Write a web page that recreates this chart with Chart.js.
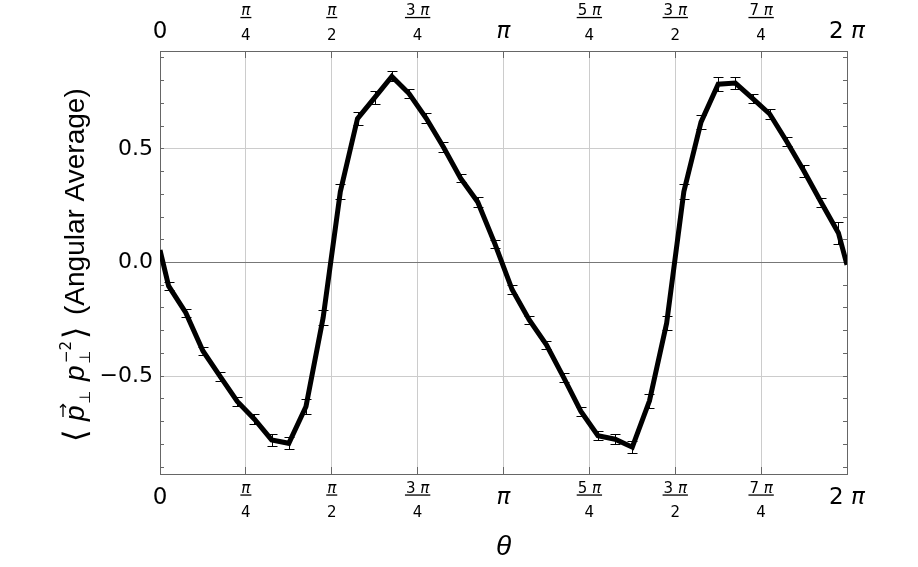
<!DOCTYPE html>
<html>
<head>
<meta charset="utf-8">
<script src="https://cdn.jsdelivr.net/npm/chart.js@4.4.0/dist/chart.umd.min.js"></script>
<style>
  html, body { margin: 0; padding: 0; background: #fff; }
  #wrap { width: 918px; height: 567px; }
</style>
</head>
<body>
<div id="wrap"><canvas id="chart" width="918" height="567"></canvas></div>
<script>
'use strict';

// theta in degrees: bin centres every 9 deg, plus both ends of the period
const thetaDeg = [0, 4.5, 13.5, 22.5, 31.5, 40.5, 49.5, 58.5, 67.5, 76.5, 85.5,
  94.5, 103.5, 112.5, 121.5, 130.5, 139.5, 148.5, 157.5, 166.5, 175.5,
  184.5, 193.5, 202.5, 211.5, 220.5, 229.5, 238.5, 247.5, 256.5, 265.5,
  274.5, 283.5, 292.5, 301.5, 310.5, 319.5, 328.5, 337.5, 346.5, 355.5, 360];

// angular average
const avgValues = [0.055, -0.103, -0.221, -0.389, -0.501, -0.611, -0.689, -0.780, -0.795, -0.633, -0.242,
  0.311, 0.633, 0.725, 0.818, 0.743, 0.634, 0.508, 0.371, 0.266, 0.082,
  -0.119, -0.253, -0.362, -0.505, -0.654, -0.762, -0.777, -0.812, -0.608, -0.266,
  0.311, 0.617, 0.784, 0.789, 0.722, 0.653, 0.531, 0.401, 0.264, 0.130, -0.010];

// half length of each error bar (0 = no bar)
const avgErrors = [0, 0.018, 0.018, 0.018, 0.020, 0.020, 0.022, 0.025, 0.027, 0.032, 0.035,
  0.033, 0.029, 0.027, 0.022, 0.021, 0.022, 0.020, 0.017, 0.020, 0.018,
  0.018, 0.018, 0.018, 0.020, 0.020, 0.020, 0.023, 0.026, 0.031, 0.032,
  0.033, 0.031, 0.031, 0.026, 0.021, 0.021, 0.020, 0.026, 0.019, 0.050, 0];

const xTickDeg = [0, 45, 90, 135, 180, 225, 270, 315, 360];
const xTickLabels = ['0', ['π', '4'], ['π', '2'], ['3 π', '4'], 'π', ['5 π', '4'], ['3 π', '2'], ['7 π', '4'], '2 π'];

const yTickValues = [-0.9, -0.8, -0.7, -0.6, -0.5, -0.4, -0.3, -0.2, -0.1, 0,
  0.1, 0.2, 0.3, 0.4, 0.5, 0.6, 0.7, 0.8, 0.9];
const yMajor = { '-0.5': '−0.5', '0': '0.0', '0.5': '0.5' };

const X_TITLE = 'θ';
const Y_TITLE_REST = '(Angular Average)';

const FRAME = '#666666';
const GRID = '#cccccc';
const ZERO = '#777777';

// draw a string where π is set in italic and the rest upright, centred on cx
function drawMath(ctx, text, cx, baseline, size) {
  const up = `${size}px "DejaVu Sans"`;
  const it = `italic ${size}px "DejaVu Sans"`;
  const parts = Array.from(text).map((ch) => ({ ch, font: ch === 'π' ? it : up }));
  let total = 0;
  parts.forEach((p) => { ctx.font = p.font; p.w = ctx.measureText(p.ch).width; total += p.w; });
  let x = cx - total / 2;
  ctx.textAlign = 'left';
  ctx.textBaseline = 'alphabetic';
  parts.forEach((p) => { ctx.font = p.font; ctx.fillText(p.ch, x, baseline); x += p.w; });
  return total;
}

function drawThetaTicks(ctx, scale, side) {
  const bigBase = side === 'top' ? scale.bottom - 13.5 : scale.top + 30;
  const barY = side === 'top' ? scale.bottom - 33.5 : scale.top + 21;
  xTickDeg.forEach((deg, i) => {
    const px = scale.getPixelForValue(deg);
    const lab = xTickLabels[i];
    if (Array.isArray(lab)) {
      const w = drawMath(ctx, lab[0], px, barY - 2.5, 15);
      drawMath(ctx, lab[1], px, barY + 22, 15);
      ctx.fillRect(px - w / 2 - 1, barY - 0.6, w + 2, 1.3);
    } else {
      drawMath(ctx, lab, px, bigBase, 23);
    }
  });
}

function drawYTitle(ctx) {
  const base = '28px "Liberation Sans"';
  const ital = 'italic 28px "Liberation Sans"';
  const small = '15px "DejaVu Sans"';
  const bracket = '32px "DejaVu Sans"';
  ctx.save();
  ctx.translate(84, 440);
  ctx.rotate(-Math.PI / 2);
  ctx.fillStyle = '#000';
  ctx.strokeStyle = '#000';
  ctx.textAlign = 'left';
  ctx.textBaseline = 'alphabetic';

  ctx.font = bracket;
  ctx.fillText('⟨', -2, 2);

  // vector p with its arrow
  ctx.font = ital;
  ctx.fillText('p', 19, 0);
  const pw = ctx.measureText('p').width;
  ctx.lineWidth = 1.3;
  ctx.beginPath();
  ctx.moveTo(23, -21); ctx.lineTo(19 + pw + 1, -21);
  ctx.moveTo(19 + pw - 2, -24); ctx.lineTo(19 + pw + 1, -21); ctx.lineTo(19 + pw - 2, -18);
  ctx.stroke();
  ctx.font = small;
  ctx.fillText('⊥', 36, 6);

  ctx.font = ital;
  ctx.fillText('p', 59, 0);
  ctx.font = small;
  ctx.fillText('⊥', 76, 6);
  ctx.fillText('−2', 77, -13);

  ctx.font = bracket;
  ctx.fillText('⟩', 101, 2);

  ctx.font = base;
  ctx.fillText(Y_TITLE_REST, 125, 0);
  ctx.restore();
}

const frameText = {
  id: 'frameText',
  afterDraw(chart) {
    const ctx = chart.ctx;
    ctx.save();
    ctx.fillStyle = '#000';
    drawThetaTicks(ctx, chart.scales.xTop, 'top');
    drawThetaTicks(ctx, chart.scales.x, 'bottom');
    ctx.restore();
    drawYTitle(ctx);
  },
};

const errorBars = {
  id: 'errorBars',
  afterDatasetsDraw(chart) {
    const ctx = chart.ctx;
    const xs = chart.scales.x;
    const ys = chart.scales.y;
    const area = chart.chartArea;
    ctx.save();
    ctx.beginPath();
    ctx.rect(area.left, area.top, area.right - area.left, area.bottom - area.top);
    ctx.clip();
    ctx.strokeStyle = '#000';
    ctx.lineWidth = 1;
    thetaDeg.forEach((deg, i) => {
      const e = avgErrors[i];
      if (!e) return;
      const x = Math.round(xs.getPixelForValue(deg)) + 0.5;
      const y1 = Math.round(ys.getPixelForValue(avgValues[i] + e)) + 0.5;
      const y2 = Math.round(ys.getPixelForValue(avgValues[i] - e)) + 0.5;
      ctx.beginPath();
      ctx.moveTo(x, y1); ctx.lineTo(x, y2);
      ctx.moveTo(x - 5, y1); ctx.lineTo(x + 5, y1);
      ctx.moveTo(x - 5, y2); ctx.lineTo(x + 5, y2);
      ctx.stroke();
    });
    ctx.restore();
  },
};

const setXTicks = (s) => { s.ticks = xTickDeg.map((v) => ({ value: v })); };
const setYTicks = (s) => { s.ticks = yTickValues.map((v) => ({ value: v })); };

new Chart(document.getElementById('chart'), {
  type: 'line',
  data: {
    datasets: [{
      data: thetaDeg.map((t, i) => ({ x: t, y: avgValues[i] })),
      borderColor: '#000',
      borderWidth: 5,
      pointRadius: 0,
      tension: 0,
      fill: false,
      clip: 0,
    }],
  },
  options: {
    responsive: false,
    animation: false,
    devicePixelRatio: 1,
    layout: { padding: 0 },
    plugins: { legend: { display: false }, tooltip: { enabled: false } },
    scales: {
      x: {
        type: 'linear', position: 'bottom', min: 0, max: 360,
        afterBuildTicks: setXTicks,
        afterFit: (s) => { s.height = 93; },
        ticks: { display: false, autoSkip: false },
        grid: {
          color: (c) => (c.tick && (c.tick.value === 0 || c.tick.value === 360) ? 'rgba(0,0,0,0)' : GRID),
          tickColor: FRAME, tickLength: -7,
        },
        border: { color: FRAME },
        title: {
          display: true, text: X_TITLE, color: '#000',
          font: { family: 'Liberation Sans', size: 28, style: 'italic' },
          padding: { top: 0, bottom: 3 },
        },
      },
      xTop: {
        type: 'linear', position: 'top', min: 0, max: 360,
        afterBuildTicks: setXTicks,
        afterFit: (s) => { s.height = 51; },
        ticks: { display: false, autoSkip: false },
        grid: { drawOnChartArea: false, tickColor: FRAME, tickLength: -7 },
        border: { color: FRAME },
      },
      y: {
        type: 'linear', position: 'left', min: -0.93, max: 0.93,
        afterBuildTicks: setYTicks,
        afterFit: (s) => { s.width = 160; },
        ticks: {
          autoSkip: false, padding: 11, color: '#000',
          font: { family: 'DejaVu Sans', size: 22 },
          callback: (v) => yMajor[String(Math.round(v * 10) / 10)] || '',
        },
        grid: {
          color: (c) => {
            const v = c.tick ? Math.round(c.tick.value * 10) / 10 : 1;
            if (v === 0) return ZERO;
            if (v === 0.5 || v === -0.5) return GRID;
            return 'rgba(0,0,0,0)';
          },
          tickColor: FRAME, tickLength: -4,
        },
        border: { color: FRAME },
      },
      yRight: {
        type: 'linear', position: 'right', min: -0.93, max: 0.93,
        afterBuildTicks: setYTicks,
        afterFit: (s) => { s.width = 71; },
        ticks: { display: false, autoSkip: false },
        grid: { drawOnChartArea: false, tickColor: FRAME, tickLength: -4 },
        border: { color: FRAME },
      },
    },
  },
  plugins: [errorBars, frameText],
});
</script>
</body>
</html>
